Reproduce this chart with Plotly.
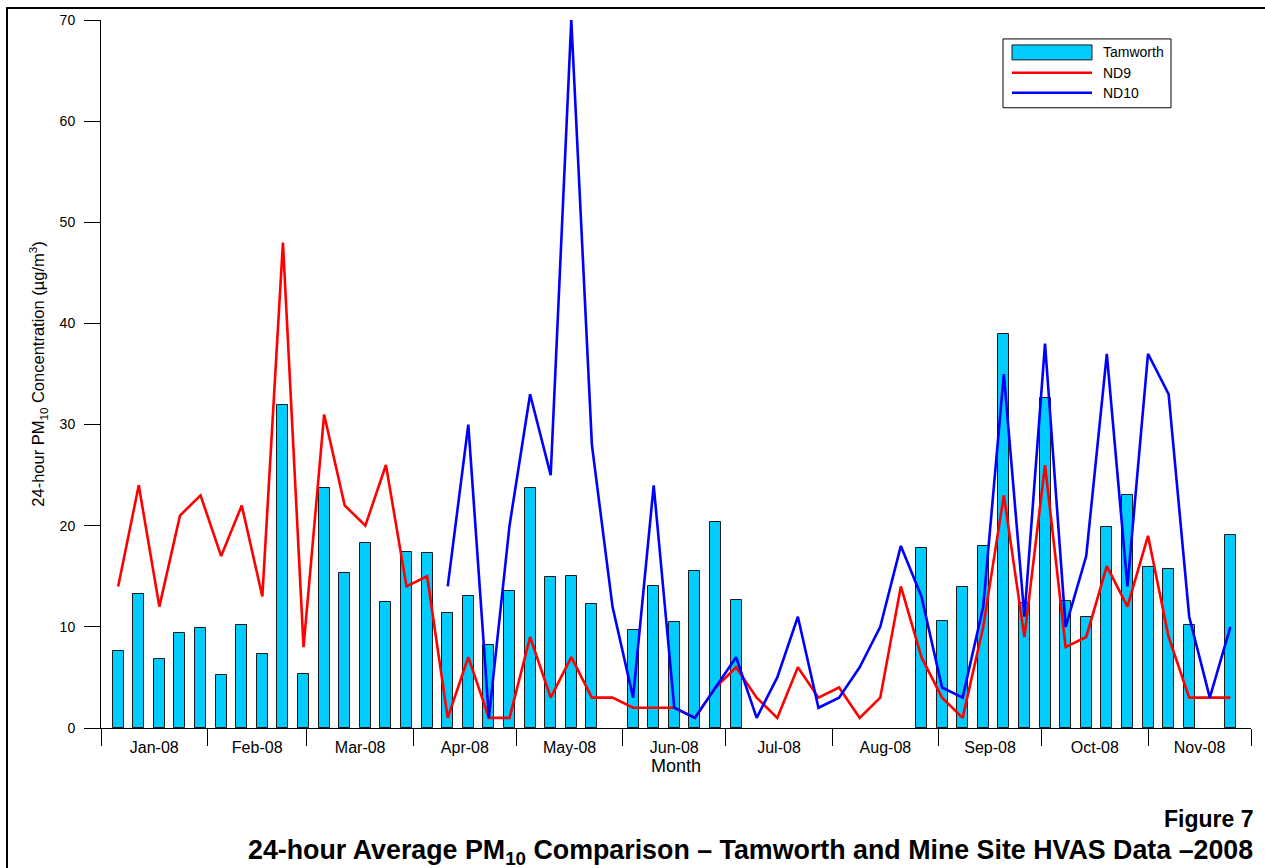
import plotly.graph_objects as go

# Sample dates (1-in-6 day HVAS schedule, 2008)
dates = [
    "2008-01-06", "2008-01-12", "2008-01-18", "2008-01-24", "2008-01-30",
    "2008-02-05", "2008-02-11", "2008-02-17", "2008-02-23", "2008-02-29",
    "2008-03-06", "2008-03-12", "2008-03-18", "2008-03-24", "2008-03-30",
    "2008-04-05", "2008-04-11", "2008-04-17", "2008-04-23", "2008-04-29",
    "2008-05-05", "2008-05-11", "2008-05-17", "2008-05-23", "2008-05-29",
    "2008-06-04", "2008-06-10", "2008-06-16", "2008-06-22", "2008-06-28",
    "2008-07-04", "2008-07-10", "2008-07-16", "2008-07-22", "2008-07-28",
    "2008-08-03", "2008-08-09", "2008-08-15", "2008-08-21", "2008-08-27",
    "2008-09-02", "2008-09-08", "2008-09-14", "2008-09-20", "2008-09-26",
    "2008-10-02", "2008-10-08", "2008-10-14", "2008-10-20", "2008-10-26",
    "2008-11-01", "2008-11-07", "2008-11-13", "2008-11-19", "2008-11-25",
]

tamworth = [
    7.6, 13.2, 6.8, 9.4, 9.9,
    5.2, 10.2, 7.3, 31.9, 5.3,
    23.7, 15.3, 18.3, 12.5, 17.4,
    17.3, 11.4, 13.1, 8.2, 13.5,
    23.7, 14.9, 15.0, 12.3, None,
    9.7, 14.0, 10.5, 15.5, 20.4,
    12.7, None, None, None, None,
    None, None, None, None, 17.8,
    10.6, 13.9, 18.0, 39.0, 12.4,
    32.6, 12.6, 11.0, 19.9, 23.0,
    15.9, 15.7, 10.2, None, 19.1,
]

nd9 = [
    14, 24, 12, 21, 23,
    17, 22, 13, 48, 8,
    31, 22, 20, 26, 14,
    15, 1, 7, 1, 1,
    9, 3, 7, 3, 3,
    2, 2, 2, 1, 4,
    6, 3, 1, 6, 3,
    4, 1, 3, 14, 7,
    3, 1, 10, 23, 9,
    26, 8, 9, 16, 12,
    19, 9, 3, 3, 3,
]

nd10 = [
    None, None, None, None, None,
    None, None, None, None, None,
    None, None, None, None, None,
    None, 14, 30, 1, 20,
    33, 25, 70, 28, 12,
    3, 24, 2, 1, 4,
    7, 1, 5, 11, 2,
    3, 6, 10, 18, 13,
    4, 3, 12, 35, 11,
    38, 10, 17, 37, 14,
    37, 33, 11, 3, 10,
]

y_ticks = [0, 10, 20, 30, 40, 50, 60, 70]
legend_names = ["Tamworth", "ND9", "ND10"]

FONT = "Arial, Liberation Sans, sans-serif"
CYAN = "#00CCFF"
RED = "#FF0000"
BLUE = "#0000FF"

fig = go.Figure()
fig.add_trace(go.Bar(
    x=dates, y=tamworth, name=legend_names[0],
    width=3.2 * 86400000,
    marker=dict(color=CYAN, line=dict(color="#1a1a1a", width=1)),
))
fig.add_trace(go.Scatter(
    x=dates, y=nd9, name=legend_names[1], mode="lines",
    line=dict(color=RED, width=2.6), connectgaps=False, cliponaxis=False,
))
fig.add_trace(go.Scatter(
    x=dates, y=nd10, name=legend_names[2], mode="lines",
    line=dict(color=BLUE, width=2.6), connectgaps=False, cliponaxis=False,
))

L, R, T, B = 101, 14, 18, 140
W, H = 1265, 868
pw, ph = W - L - R, H - T - B


def px(xp):
    return (xp - L) / pw


def py(yp):
    return (H - B - yp) / ph


shapes = []
annotations = []

# outer frame
shapes.append(dict(type="rect", xref="paper", yref="paper",
                   x0=px(7), x1=px(1300), y0=py(900), y1=py(6),
                   line=dict(color="black", width=2), fillcolor="rgba(0,0,0,0)", layer="below"))

# custom legend
shapes.append(dict(type="rect", xref="paper", yref="paper",
                   x0=px(1003), x1=px(1171), y0=py(106), y1=py(37),
                   line=dict(color="black", width=1), fillcolor="white"))
shapes.append(dict(type="rect", xref="paper", yref="paper",
                   x0=px(1012), x1=px(1092), y0=py(58), y1=py(43),
                   line=dict(color="#1a1a1a", width=1), fillcolor=CYAN))
shapes.append(dict(type="line", xref="paper", yref="paper",
                   x0=px(1012), x1=px(1092), y0=py(71), y1=py(71),
                   line=dict(color=RED, width=2.5)))
shapes.append(dict(type="line", xref="paper", yref="paper",
                   x0=px(1012), x1=px(1092), y0=py(91), y1=py(91),
                   line=dict(color=BLUE, width=2.5)))
for name, yy in zip(legend_names, [50, 71, 91]):
    annotations.append(dict(xref="paper", yref="paper", x=px(1101), y=py(yy),
                            text=name, showarrow=False, xanchor="left", yanchor="middle",
                            font=dict(family=FONT, size=14, color="black")))

annotations.append(dict(xref="paper", yref="paper", x=px(1255), y=py(819),
                        text="<b>Figure 7</b>", showarrow=False, xanchor="right", yanchor="middle",
                        font=dict(family=FONT, size=23, color="black")))
annotations.append(dict(xref="paper", yref="paper", x=px(1255), y=py(852),
                        text="<b>24-hour Average PM<sub>10</sub> Comparison \u2013 Tamworth and Mine Site HVAS Data \u20132008</b>",
                        showarrow=False, xanchor="right", yanchor="middle",
                        font=dict(family=FONT, size=26.8, color="black")))

fig.update_layout(
    width=W, height=H,
    margin=dict(l=L, r=R, t=T, b=B, pad=0),
    paper_bgcolor="white", plot_bgcolor="white",
    showlegend=False,
    bargap=0,
    shapes=shapes,
    annotations=annotations,
    font=dict(family=FONT, color="black"),
)

fig.update_xaxes(
    type="date",
    range=["2008-01-01", "2008-12-01"],
    dtick="M1", tick0="2008-01-01",
    tickformat="%b-%y",
    ticklabelmode="period",
    ticks="outside", ticklen=17, tickcolor="black", tickwidth=1,
    ticklabelstandoff=-12,
    showline=True, linecolor="black", linewidth=1,
    showgrid=False, zeroline=False,
    tickfont=dict(family=FONT, size=16, color="black"),
    title=dict(text="Month", font=dict(family=FONT, size=18, color="black"), standoff=0),
)
fig.update_yaxes(
    range=[0, 70],
    tickvals=y_ticks,
    ticks="outside", ticklen=16, tickcolor="black", tickwidth=1,
    ticklabelstandoff=6,
    showline=True, linecolor="black", linewidth=1,
    showgrid=False, zeroline=False,
    tickfont=dict(family=FONT, size=14, color="black"),
    title=dict(text="24-hour PM<sub>10</sub> Concentration (\u00b5g/m<sup>3</sup>)",
               font=dict(family=FONT, size=16.5, color="black"), standoff=10),
)

fig.write_html("out.html")
